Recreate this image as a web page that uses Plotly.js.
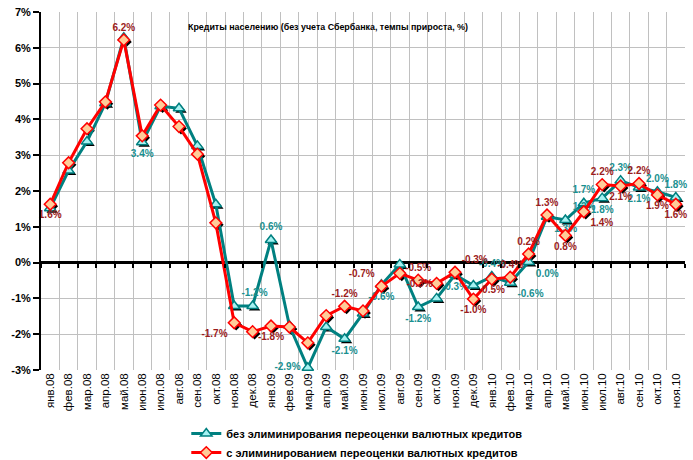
<!DOCTYPE html>
<html>
<head>
<meta charset="utf-8">
<script src="https://cdn.plot.ly/plotly-3.0.1.min.js"></script>
<style>html,body{margin:0;padding:0;background:#fff;}#chart{width:693px;height:460px;}</style>
</head>
<body>
<div id="chart"></div>
<script>
// ---- data ----
const months = ["янв.08","фев.08","мар.08","апр.08","май.08","июн.08","июл.08","авг.08","сен.08","окт.08","ноя.08","дек.08",
  "янв.09","фев.09","мар.09","апр.09","май.09","июн.09","июл.09","авг.09","сен.09","окт.09","ноя.09","дек.09",
  "янв.10","фев.10","мар.10","апр.10","май.10","июн.10","июл.10","авг.10","сен.10","окт.10","ноя.10"];

const seriesNames = ["без элиминирования переоценки валютных кредитов", "с элиминированием переоценки валютных кредитов"];

// без элиминирования переоценки валютных кредитов
const withoutElim = [1.52, 2.57, 3.38, 4.45, 6.28, 3.36, 4.37, 4.31, 3.26, 1.63, -1.21, -1.21,
  0.63, -1.76, -2.94, -1.80, -2.13, -1.42, -0.62, -0.05, -1.24, -1.00, -0.34, -0.64,
  -0.39, -0.56, 0.02, 1.28, 1.19, 1.66, 1.80, 2.29, 2.10, 1.98, 1.82];

// с элиминированием переоценки валютных кредитов
const withElim = [1.63, 2.79, 3.74, 4.49, 6.22, 3.54, 4.40, 3.80, 3.03, 1.11, -1.68, -1.93,
  -1.77, -1.80, -2.24, -1.48, -1.22, -1.35, -0.66, -0.30, -0.49, -0.58, -0.27, -1.02,
  -0.46, -0.41, 0.24, 1.33, 0.76, 1.42, 2.18, 2.14, 2.21, 1.89, 1.63];

const yTicks = [-3, -2, -1, 0, 1, 2, 3, 4, 5, 6, 7];
const chartTitle = "Кредиты населению (без учета Сбербанка, темпы прироста, %)";

// which points carry a value label, and where it sits
const withoutLabelPos = {5:"bottom center",10:"top right",12:"top center",14:"middle left",16:"bottom center",18:"bottom center",
  20:"bottom center",22:"bottom center",24:"top center",25:"bottom right",26:"bottom right",27:"bottom right",28:"top right",
  29:"top center",30:"bottom center",31:"top center",32:"bottom center",33:"top center",34:"top center"};
const withLabelPos = {0:"bottom center",4:"top center",10:"bottom left",12:"bottom center",16:"top center",18:"top left",
  19:"bottom right",20:"top center",22:"top right",23:"bottom center",24:"bottom center",25:"top center",26:"top center",
  27:"top center",28:"bottom center",29:"bottom right",30:"top center",31:"bottom center",32:"top center",33:"bottom center",34:"bottom center"};

function labels(vals, pos){ return vals.map((v,i)=> pos[i] ? v.toFixed(1)+"%" : ""); }
function positions(vals, pos){ return vals.map((v,i)=> pos[i] || "top center"); }

const idx = months.map((m,i)=>i);

// ---- geometry helpers for shadow offset (in pixels) ----
const plotW = 693-41-8, plotH = 460-12-90;
const nCat = months.length;
const xr = [-0.5, nCat-0.5], yr = [-3, 7];
const dxPx = 2, dyPx = 2;
const xShift = dxPx*(xr[1]-xr[0])/plotW, yShift = dyPx*(yr[1]-yr[0])/plotH;

const teal = "#008080", red = "#ff0000";

const traces = [
  // base carrier (keeps base axes populated)
  {x: idx, y: idx.map(()=>0), xaxis:"x", yaxis:"y", mode:"markers", marker:{opacity:0}, showlegend:false, hoverinfo:"skip"},
  // shadows
  {x: idx, y: withoutElim, xaxis:"x2", yaxis:"y2", mode:"markers", showlegend:false, hoverinfo:"skip",
   marker:{symbol:"triangle-up", size:10, color:"#000"}},
  {x: idx, y: withElim, xaxis:"x2", yaxis:"y2", mode:"markers", showlegend:false, hoverinfo:"skip",
   marker:{symbol:"diamond", size:9, color:"#000"}},
  // main
  {x: idx, y: withoutElim, xaxis:"x3", yaxis:"y3", name: seriesNames[0], mode:"lines+markers+text",
   line:{color:teal, width:3},
   marker:{symbol:"triangle-up", size:10, color:"#a6f2f2", line:{color:teal, width:1.5}},
   text: labels(withoutElim, withoutLabelPos), textposition: positions(withoutElim, withoutLabelPos),
   textfont:{family:"Arial, Liberation Sans", size:10, color:"#1a9090", weight:"bold"}, cliponaxis:false},
  {x: idx, y: withElim, xaxis:"x3", yaxis:"y3", name: seriesNames[1], mode:"lines+markers+text",
   line:{color:red, width:3},
   marker:{symbol:"diamond", size:9, color:"#ffcc99", line:{color:red, width:1.5}},
   text: labels(withElim, withLabelPos), textposition: positions(withElim, withLabelPos),
   textfont:{family:"Arial, Liberation Sans", size:10, color:"#9b1c1c", weight:"bold"}, cliponaxis:false},
  // zero-line tick marks carrier
  {x: idx, y: idx.map(()=>0), xaxis:"x4", yaxis:"y", mode:"markers", marker:{opacity:0}, showlegend:false, hoverinfo:"skip"}
];

const layout = {
  width:693, height:460,
  margin:{l:41, r:8, t:12, b:90, autoexpand:false},
  paper_bgcolor:"#fff", plot_bgcolor:"#fff",
  font:{family:"Arial, Liberation Sans", color:"#000"},
  showlegend:true,
  xaxis:{range:xr, tickvals:idx, ticktext:months, showgrid:false, automargin:false,
    minor:{tick0:-0.5, dtick:1, showgrid:true, gridcolor:"#c0c0c0", gridwidth:1, ticks:""},
    showline:false, ticks:"", tickangle:-90, tickfont:{size:11.5}, zeroline:false, fixedrange:true},
  yaxis:{range:yr, tickvals:yTicks, ticktext:yTicks.map(v=>v+"%"), showgrid:true, gridcolor:"#c0c0c0", gridwidth:1, automargin:false,
    showline:true, linecolor:"#000", linewidth:2, ticks:"outside", ticklen:6, tickwidth:2, tickcolor:"#000",
    tickfont:{size:11, weight:"bold"}, zeroline:true, zerolinecolor:"#000", zerolinewidth:2.5, fixedrange:true},
  xaxis2:{range:[xr[0]-xShift, xr[1]-xShift], overlaying:"x", visible:false, anchor:"y2"},
  yaxis2:{range:[yr[0]+yShift, yr[1]+yShift], overlaying:"y", visible:false, anchor:"x2"},
  xaxis3:{range:xr, overlaying:"x", visible:false, anchor:"y3"},
  yaxis3:{range:yr, overlaying:"y", visible:false, anchor:"x3"},
  xaxis4:{range:xr, overlaying:"x", anchor:"free", position:(0-yr[0])/(yr[1]-yr[0]), automargin:false,
    side:"bottom", tick0:-0.5, dtick:1, ticks:"outside", ticklen:4, tickwidth:2, tickcolor:"#000",
    showticklabels:false, showgrid:false, showline:false, zeroline:false},
  legend:{orientation:"v", x:0.2256, xanchor:"left", y:-0.137, yanchor:"top", bgcolor:"rgba(0,0,0,0)",
    font:{size:11, weight:"bold"}, itemwidth:30},
  annotations:[{text:chartTitle, xref:"paper", yref:"paper", x:0.446, y:0.958, xanchor:"center", yanchor:"middle",
    showarrow:false, font:{size:8.9, weight:"bold", color:"#000"}}]
};

Plotly.newPlot("chart", traces, layout, {staticPlot:true, displayModeBar:false});
</script>
</body>
</html>
